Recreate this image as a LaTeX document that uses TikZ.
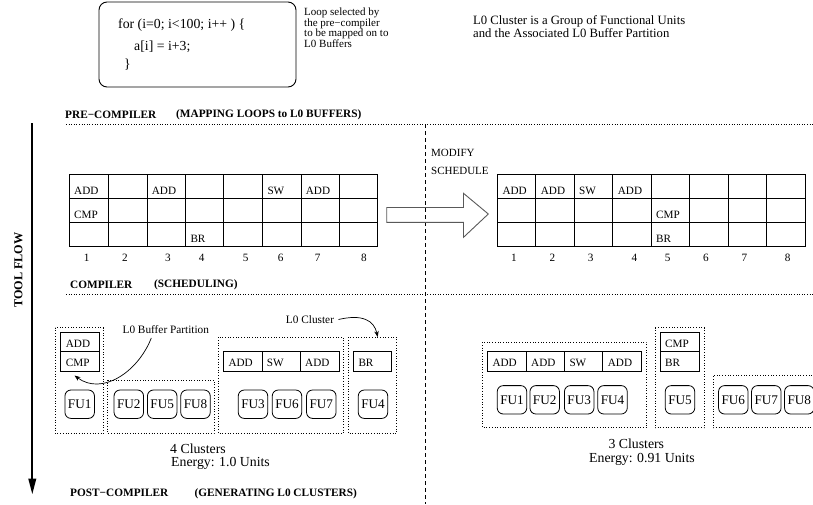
\documentclass[tikz,border=0pt]{standalone}
\usepackage{fontspec}
\setmainfont{Liberation Serif}
\usetikzlibrary{arrows.meta}
\begin{document}
\begin{tikzpicture}[x=1pt,y=-1pt,
  txt/.style={inner sep=0pt, font=\fontsize{11}{10.8}\selectfont},
  head/.style={inner sep=0pt, anchor=west, font=\bfseries\fontsize{11.3}{12}\selectfont},
  celltxt/.style={inner sep=0pt, anchor=base west, font=\fontsize{11.2}{12}\selectfont},
  num/.style={inner sep=0pt, font=\fontsize{11.2}{12}\selectfont},
  fu/.style={draw, rounded corners=6pt, line width=0.8pt, minimum width=29.5pt, minimum height=28.4pt, inner sep=0pt, font=\fontsize{13.2}{14}\selectfont},
  clus/.style={draw, dotted, line width=0.7pt},
  sepline/.style={dotted, line width=0.6pt},
  gridline/.style={line width=0.8pt},
  bigtxt/.style={inner sep=0pt, anchor=base west, font=\fontsize{13.8}{14}\selectfont},
  curvearrow/.style={line width=0.7pt, -{Stealth[length=6pt,width=4.5pt]}}
]
\useasboundingbox (0,0) rectangle (813,504);

% code box
\draw[line width=0.9pt, rounded corners=8pt] (99,2) rectangle (296,87);
\node[anchor=west, inner sep=0pt, font=\fontsize{13.8}{14}\selectfont] (c1) at (118,25) {for (i=0; i<100; i++ ) \{};
\node[anchor=west, inner sep=0pt, font=\fontsize{13.8}{14}\selectfont] (c2) at (134,47) {a[i] = i+3;};
\node[anchor=west, inner sep=0pt, font=\fontsize{13.8}{14}\selectfont] (c3) at (124,65) {\}};
\node[txt, anchor=north west, align=left] (cm) at (304,7.5) {Loop selected by\\the pre\textminus compiler\\to be mapped on to\\L0 Buffers};
\node[inner sep=0pt, anchor=north west, align=left, font=\fontsize{12.7}{13}\selectfont] (def) at (473,15.5) {L0 Cluster is a Group of Functional Units\\and the Associated L0 Buffer Partition};

% headings
\node[head] (h1) at (65,115) {PRE\textminus COMPILER};
\node[head] (h1b) at (176,115) {(MAPPING LOOPS to L0 BUFFERS)};
\coordinate (s1a) at (66,124); \coordinate (s1b) at (813,124);
\draw[sepline] (s1a) -- (s1b);
\node[head] (h2) at (70,285) {COMPILER};
\node[head] (h2b) at (154,285) {(SCHEDULING)};
\coordinate (s2a) at (66,294); \coordinate (s2b) at (813,294);
\draw[sepline] (s2a) -- (s2b);
\node[head] (h3) at (70,493.3) {POST\textminus COMPILER};
\node[head] (h3b) at (194.3,493.3) {(GENERATING L0 CLUSTERS)};

% vertical dashed divider
\coordinate (vd1) at (425,124); \coordinate (vd2) at (425,504);
\draw[dashed, dash pattern=on 4pt off 3pt, line width=0.6pt] (vd1) -- (vd2);

% tool flow
\coordinate (tf1) at (32.3,123); \coordinate (tf2) at (32.3,494.5);
\draw[line width=2.2pt, -{Triangle[length=16pt,width=7.5pt]}] (tf1) -- (tf2);
\node[inner sep=0pt, rotate=90, font=\bfseries\fontsize{12.2}{12}\selectfont] (tfl) at (18.5,270) {TOOL FLOW};

% left table
\draw[gridline] (69.3,174) rectangle (377.7,246.7);
\foreach \x in {108.3,147,185.7,223.7,262.3,301,339.3} \draw[gridline] (\x,174) -- (\x,246.7);
\foreach \y in {198.3,222.3} \draw[gridline] (69.3,\y) -- (377.7,\y);
\node[celltxt] (la1) at (74,194.3) {ADD};
\node[celltxt] (la3) at (151.7,194.3) {ADD};
\node[celltxt] (la6) at (267.3,194.3) {SW};
\node[celltxt] (la7) at (305.7,194.3) {ADD};
\node[celltxt] (lb1) at (74,218.3) {CMP};
\node[celltxt] (lc4) at (190.3,242.4) {BR};
\foreach \x/\n in {86.7/1,125/2,168/3,201.7/4,245.7/5,280.7/6,317.7/7,364/8}
  \node[num] (ln\n) at (\x,257.7) {\n};

% right table
\draw[gridline] (497.3,174) rectangle (805,246.7);
\foreach \x in {535.7,574,612.7,651,689.3,728,766.3} \draw[gridline] (\x,174) -- (\x,246.7);
\foreach \y in {198.3,222.3} \draw[gridline] (497.3,\y) -- (805,\y);
\node[celltxt] (ra1) at (502.3,194.3) {ADD};
\node[celltxt] (ra2) at (540.7,194.3) {ADD};
\node[celltxt] (ra3) at (579,194.3) {SW};
\node[celltxt] (ra4) at (617.7,194.3) {ADD};
\node[celltxt] (rb5) at (656,218.3) {CMP};
\node[celltxt] (rc5) at (656,242.4) {BR};
\foreach \x/\n in {514/1,552.3/2,590.7/3,634.3/4,667.7/5,706/6,744.3/7,787.7/8}
  \node[num] (rn\n) at (\x,257.7) {\n};

% modify schedule
\node[txt, anchor=west] (mod1) at (431,152.7) {MODIFY};
\node[txt, anchor=west] (mod2) at (431,170.7) {SCHEDULE};
\draw[line width=0.9pt, draw=black!65] (386.7,207.5) -- (463.5,207.5) -- (463.5,193.3) -- (488.3,214) -- (463.5,237.3) -- (463.5,222.3) -- (386.7,222.3) -- cycle;

% left clusters
\draw[clus] (55,327.7) rectangle (103.3,433.3);
\draw[clus] (107.7,380) rectangle (214,433.3);
\draw[clus] (218.3,337.3) rectangle (343.3,433.3);
\draw[clus] (348.3,337.3) rectangle (396.7,433.3);

\draw[gridline] (60,332.7) rectangle (99,371);
\draw[gridline] (60,351.7) -- (99,351.7);
\node[celltxt] (lk1) at (65.7,347.5) {ADD};
\node[celltxt] (lk2) at (65.7,366.5) {CMP};
\draw[gridline] (223.3,351.7) rectangle (339,371);
\draw[gridline] (262.3,351.7) -- (262.3,371);
\draw[gridline] (300.7,351.7) -- (300.7,371);
\node[celltxt] (lk3) at (228.3,366.5) {ADD};
\node[celltxt] (lk4) at (266.7,366.5) {SW};
\node[celltxt] (lk5) at (305,366.5) {ADD};
\draw[gridline] (353.3,351.7) rectangle (391.7,371);
\node[celltxt] (lk6) at (358.3,366.5) {BR};

\node[fu] (lfu1) at (79.7,404.2) {FU1};
\node[fu] (lfu2) at (128.8,404.2) {FU2};
\node[fu] (lfu5) at (162.2,404.2) {FU5};
\node[fu] (lfu8) at (195.5,404.2) {FU8};
\node[fu] (lfu3) at (253,404.2) {FU3};
\node[fu] (lfu6) at (287,404.2) {FU6};
\node[fu] (lfu7) at (321.3,404.2) {FU7};
\node[fu] (lfu4) at (373,404.2) {FU4};

\node[inner sep=0pt, font=\fontsize{11.3}{12}\selectfont] (lbp) at (165.8,329.3) {L0 Buffer Partition};
\coordinate (lbp1) at (151.3,338);
\coordinate (lbp2) at (74.5,375.5);
\draw[curvearrow] (lbp1) .. controls (138,372) and (102,396) .. (lbp2);
\node[inner sep=0pt, font=\fontsize{11.3}{12}\selectfont] (lcl) at (310,319.3) {L0 Cluster};
\coordinate (lcl1) at (338.5,319.5);
\coordinate (lcl2) at (377.7,337);
\draw[curvearrow] (lcl1) .. controls (362,314) and (374,320) .. (lcl2);

\node[bigtxt] (lc1) at (170,453.5) {4 Clusters};
\node[bigtxt] (lc2) at (171,466.8) {Energy: 1.0 Units};

% right clusters
\draw[clus] (482.7,342.3) rectangle (646.7,427.7);
\draw[clus] (655,327.7) rectangle (704,427.7);
\draw[clus] (820,375) -- (713.3,375) -- (713.3,427.7) -- (820,427.7);

\draw[gridline] (487.3,351.7) rectangle (641.7,371);
\foreach \x in {526,564.3,602.7} \draw[gridline] (\x,351.7) -- (\x,371);
\node[celltxt] (rk1) at (492.3,366.5) {ADD};
\node[celltxt] (rk2) at (531,366.5) {ADD};
\node[celltxt] (rk3) at (569.3,366.5) {SW};
\node[celltxt] (rk4) at (607.7,366.5) {ADD};
\draw[gridline] (660,332.7) rectangle (699.3,371);
\draw[gridline] (660,351.7) -- (699.3,351.7);
\node[celltxt] (rk5) at (665,347.5) {CMP};
\node[celltxt] (rk6) at (665,366.5) {BR};

\node[fu] (rfu1) at (512,399.8) {FU1};
\node[fu] (rfu2) at (544.7,399.8) {FU2};
\node[fu] (rfu3) at (579.2,399.8) {FU3};
\node[fu] (rfu4) at (612.5,399.8) {FU4};
\node[fu] (rfu5) at (680,399.8) {FU5};
\node[fu] (rfu6) at (733.3,399.8) {FU6};
\node[fu] (rfu7) at (766.3,399.8) {FU7};
\node[fu] (rfu8) at (799.3,399.8) {FU8};

\node[bigtxt] (rc1) at (608.3,448.3) {3 Clusters};
\node[bigtxt] (rc2) at (589,462.3) {Energy: 0.91 Units};
\end{tikzpicture}
\end{document}
